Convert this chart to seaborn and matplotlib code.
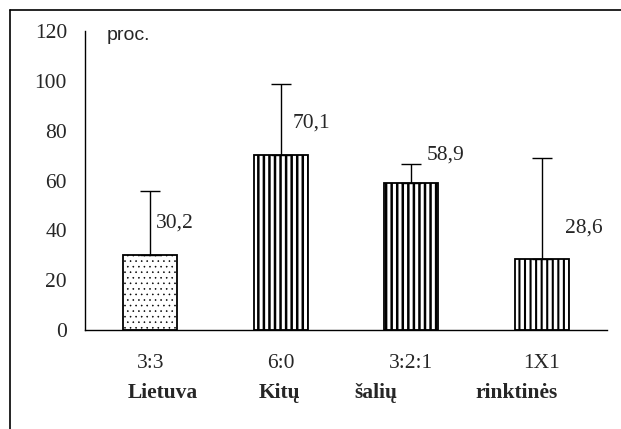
import matplotlib
matplotlib.use('Agg')
import matplotlib.pyplot as plt
import matplotlib.transforms as mtransforms
from matplotlib.lines import Line2D
import seaborn as sns
import pandas as pd

# duomenys
schemes = ['3:3', '6:0', '3:2:1', '1X1']
values = [30.2, 70.1, 58.9, 28.6]
err_up = [25.6, 28.6, 7.6, 40.3]
value_labels = ['30,2', '70,1', '58,9', '28,6']
group_words = ['Lietuva', 'Kitų', 'šalių', 'rinktinės']
yticks = [0, 20, 40, 60, 80, 100, 120]

# išdėstymas
lbl_pos = [(0.045, 43), (0.09, 83), (0.12, 70.3), (0.175, 41)]
word_x = [0.10, 0.99, 1.73, 2.81]
hatches = ['...', '|||', '|||', '|||']
hatch_lw = [0.4, 1.8, 1.8, 1.5]

sns.set_style('white')
plt.rcParams['font.family'] = ['Liberation Serif', 'DejaVu Serif']
plt.rcParams['hatch.linewidth'] = 1.8

df = pd.DataFrame({'schema': schemes, 'proc': values})

fig = plt.figure(figsize=(6.21, 4.29), dpi=100)
ax = fig.add_axes([85 / 621, 1 - 330 / 429, 522 / 621, 299 / 429])

sns.barplot(data=df, x='schema', y='proc', color='white', width=0.41,
            edgecolor='black', linewidth=1.3, errorbar=None, ax=ax)

for bar, h, lw in zip(ax.patches, hatches, hatch_lw):
    bar.set_hatch(h)
    bar.set_facecolor('white')
    bar.set_edgecolor('black')
    if hasattr(bar, 'set_hatch_linewidth'):
        bar.set_hatch_linewidth(lw)
    else:
        bar._hatch_linewidth = lw

ax.errorbar(range(len(values)), values, yerr=[[0] * len(values), err_up],
            fmt='none', ecolor='black', elinewidth=1, capsize=7, capthick=1)

for i, (txt, (dx, y)) in enumerate(zip(value_labels, lbl_pos)):
    ax.text(i + dx, y, txt, fontsize=15.5, ha='left', va='center')

ax.set_xlim(-0.5, len(schemes) - 0.5)
ax.set_ylim(0, 120)
ax.set_yticks(yticks)
ax.set_xticks(range(len(schemes)))
ax.set_xticklabels(schemes)
ax.set_xticks([i - 0.5 for i in range(len(schemes) + 1)], minor=True)
ax.tick_params(axis='x', which='major', length=0, pad=17, labelsize=15.5)
ax.tick_params(axis='x', which='minor', length=5, width=1, direction='out')
ax.tick_params(axis='y', length=5, width=1, direction='out', pad=8, labelsize=15.5)
ax.set_xlabel('')
ax.set_ylabel('')

for s in ['top', 'right']:
    ax.spines[s].set_visible(False)
for s in ['left', 'bottom']:
    ax.spines[s].set_color('black')
    ax.spines[s].set_linewidth(1)

ax.text(0.042, 0.985, 'proc.', transform=ax.transAxes,
        fontsize=14, family=['Liberation Sans', 'DejaVu Sans'], ha='left', va='center')

trans = mtransforms.blended_transform_factory(ax.transData, ax.transAxes)
for x, w in zip(word_x, group_words):
    ax.text(x, -0.211, w, transform=trans, fontsize=15.5, fontweight='bold',
            ha='center', va='center')

# rėmelis
fig.add_artist(Line2D([9.5 / 621, 1], [1 - 10 / 429, 1 - 10 / 429],
                      transform=fig.transFigure, color='black', lw=1.2))
fig.add_artist(Line2D([9.5 / 621, 9.5 / 621], [0, 1 - 10 / 429],
                      transform=fig.transFigure, color='black', lw=1.2))

fig.savefig('out.png', dpi=100)
